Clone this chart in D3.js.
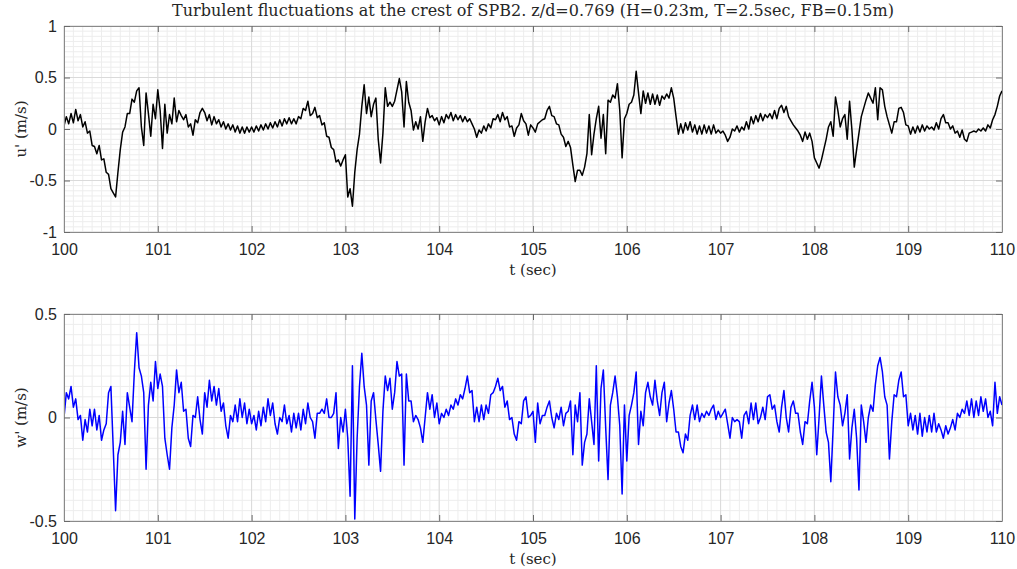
<!DOCTYPE html>
<html>
<head>
<meta charset="utf-8">
<script src="https://cdn.jsdelivr.net/npm/d3@7"></script>
<style>
body { margin: 0; background: #ffffff; }
</style>
</head>
<body>
<div id="DrawZone"></div>
<script>
// time axis of the records: one sample every 0.025 sec from t=100
var tStart = 100;
var tStep = 0.025;

// u' (m/s), 20 samples per row (0.5 sec)
var uValues = [
	0.03, 0.12, 0.05, 0.15, 0.06, 0.19, 0.08, 0.14, 0.02, 0.07, -0.04, -0.02, -0.16, -0.17, -0.24, -0.16, -0.30, -0.29, -0.42, -0.44,
	-0.58, -0.62, -0.66, -0.42, -0.20, -0.03, 0.02, 0.15, 0.15, 0.29, 0.26, 0.37, 0.40, 0.02, -0.16, 0.35, 0.15, -0.07, 0.24, 0.10,
	0.38, 0.18, -0.19, 0.24, -0.04, 0.14, 0.05, 0.30, 0.07, 0.18, 0.13, 0.09, 0.14, 0.02, 0.05, -0.06, 0.09, 0.06, 0.16, 0.20,
	0.16, 0.08, 0.14, 0.04, 0.12, 0.05, 0.09, 0.02, 0.07, 0.00, 0.05, -0.01, 0.04, -0.03, 0.03, -0.04, 0.02, -0.04, 0.02, -0.03,
	0.02, -0.03, 0.03, -0.02, 0.04, -0.01, 0.05, 0.00, 0.06, 0.01, 0.07, 0.02, 0.09, 0.03, 0.10, 0.05, 0.11, 0.05, 0.10, 0.05,
	0.12, 0.10, 0.20, 0.18, 0.27, 0.13, 0.15, 0.21, 0.11, 0.13, 0.04, 0.06, -0.07, -0.08, -0.18, -0.20, -0.32, -0.30, -0.36, -0.30,
	-0.25, -0.66, -0.58, -0.75, -0.42, -0.20, -0.05, 0.22, 0.43, 0.15, 0.31, 0.12, 0.24, 0.30, -0.10, -0.33, -0.04, 0.40, 0.22, 0.26,
	0.22, 0.27, 0.38, 0.49, 0.36, 0.02, 0.46, 0.26, 0.18, -0.01, 0.07, 0.00, 0.12, -0.12, 0.07, 0.20, 0.11, 0.13, 0.08, 0.11,
	0.04, 0.12, 0.06, 0.14, 0.10, 0.16, 0.08, 0.14, 0.09, 0.13, 0.07, 0.12, 0.07, 0.10, 0.05, 0.00, -0.08, -0.01, -0.04, 0.03,
	-0.02, 0.05, 0.01, 0.10, 0.09, 0.14, 0.07, 0.16, 0.09, 0.12, 0.02, 0.03, -0.07, 0.01, 0.04, 0.15, 0.08, 0.05, -0.06, 0.04,
	0.01, -0.03, 0.05, 0.07, 0.09, 0.10, 0.18, 0.22, 0.13, 0.12, 0.05, 0.04, -0.05, -0.08, -0.17, -0.12, -0.18, -0.35, -0.51, -0.40,
	-0.40, -0.45, -0.37, -0.24, 0.14, -0.25, -0.05, 0.10, 0.22, -0.09, 0.14, -0.24, 0.28, 0.26, 0.33, 0.30, 0.44, 0.18, -0.28, 0.10,
	0.15, 0.24, 0.26, 0.33, 0.56, 0.35, 0.15, 0.37, 0.25, 0.35, 0.24, 0.34, 0.24, 0.33, 0.23, 0.32, 0.29, 0.34, 0.30, 0.40,
	0.30, 0.12, -0.05, 0.05, -0.04, 0.06, -0.01, 0.07, -0.03, 0.04, -0.05, 0.03, -0.05, 0.04, -0.04, 0.03, -0.05, 0.04, -0.04, -0.01,
	-0.04, -0.02, -0.06, -0.12, -0.08, 0.00, -0.02, 0.03, -0.03, 0.02, -0.01, 0.07, 0.00, 0.12, 0.05, 0.13, 0.07, 0.15, 0.08, 0.14,
	0.11, 0.15, 0.10, 0.18, 0.10, 0.20, 0.23, 0.16, 0.22, 0.12, 0.08, 0.04, 0.01, -0.02, -0.06, -0.12, -0.03, -0.10, -0.04, -0.12,
	-0.28, -0.33, -0.38, -0.30, -0.20, -0.10, 0.02, 0.07, -0.07, 0.31, 0.18, 0.02, 0.10, 0.14, -0.10, 0.27, -0.01, -0.37, -0.20, -0.04,
	0.12, 0.20, 0.28, 0.35, 0.30, 0.25, 0.40, 0.09, 0.40, 0.38, 0.22, 0.12, 0.04, -0.04, 0.07, 0.07, 0.20, 0.21, 0.16, 0.04,
	0.03, -0.05, 0.02, -0.04, 0.03, -0.03, 0.04, -0.02, 0.03, 0.00, 0.02, -0.01, 0.06, 0.00, 0.10, 0.14, 0.06, 0.06, 0.00, 0.03,
	-0.04, -0.02, -0.08, -0.01, -0.10, -0.12, -0.04, -0.03, -0.02, -0.03, 0.00, -0.02, 0.01, -0.02, 0.04, 0.01, 0.09, 0.14, 0.22, 0.32,
	0.37
];

// w' (m/s), same sampling
var wValues = [
	0.00, 0.12, 0.09, 0.15, 0.05, 0.09, -0.01, 0.01, -0.11, -0.01, -0.07, 0.04, -0.04, 0.04, -0.06, 0.01, -0.11, -0.06, -0.03, 0.12,
	0.15, -0.15, -0.45, -0.18, -0.12, 0.03, -0.13, 0.12, 0.05, -0.02, 0.22, 0.41, 0.24, 0.20, 0.12, -0.25, 0.06, 0.17, 0.08, 0.27,
	0.14, 0.21, 0.15, -0.10, -0.18, -0.25, -0.05, 0.06, 0.23, 0.12, 0.17, 0.03, 0.04, -0.10, -0.14, 0.01, 0.00, 0.10, -0.01, -0.08,
	0.12, 0.05, 0.18, 0.08, 0.15, 0.06, 0.14, 0.03, 0.07, -0.04, -0.10, 0.01, -0.02, 0.06, -0.02, 0.09, 0.00, 0.07, -0.03, 0.04,
	-0.03, 0.01, -0.06, 0.03, -0.04, 0.05, -0.02, 0.09, 0.01, 0.07, -0.03, -0.08, 0.00, -0.02, 0.06, -0.03, 0.01, -0.07, 0.02, -0.05,
	0.02, -0.06, 0.04, -0.03, 0.07, 0.00, -0.02, -0.10, 0.02, 0.02, 0.04, 0.02, 0.09, 0.00, 0.00, 0.02, 0.12, -0.15, 0.00, -0.07,
	0.04, -0.10, -0.38, 0.25, -0.49, -0.10, 0.15, 0.31, 0.15, 0.06, -0.23, 0.08, 0.12, -0.01, -0.13, -0.26, 0.03, 0.20, 0.13, 0.19,
	0.04, 0.12, 0.27, 0.20, 0.21, -0.23, 0.21, 0.08, 0.08, -0.02, 0.01, -0.01, -0.05, -0.12, 0.00, 0.12, 0.04, 0.11, 0.00, 0.07,
	-0.03, 0.02, 0.00, 0.04, 0.01, 0.06, 0.04, 0.09, 0.06, 0.11, 0.09, 0.14, 0.20, 0.12, 0.13, -0.02, 0.05, -0.02, 0.06, -0.01,
	0.06, 0.02, 0.11, 0.12, 0.15, 0.19, 0.13, 0.15, 0.05, 0.08, -0.01, 0.00, -0.08, -0.11, -0.02, -0.03, 0.08, 0.10, 0.00, 0.01,
	0.03, -0.12, 0.07, -0.03, 0.01, 0.01, 0.05, 0.08, 0.00, -0.05, 0.02, -0.01, 0.05, -0.04, 0.02, 0.03, 0.08, -0.18, 0.06, -0.02,
	0.12, -0.23, -0.12, -0.08, 0.09, -0.02, -0.13, 0.25, -0.21, 0.14, 0.23, -0.05, -0.30, 0.06, 0.12, 0.20, 0.10, -0.04, -0.37, 0.06,
	-0.21, 0.01, 0.06, 0.12, 0.22, -0.13, 0.03, -0.04, 0.12, 0.17, 0.10, 0.06, 0.18, 0.08, 0.01, 0.12, 0.17, -0.02, 0.07, 0.13,
	0.04, -0.07, -0.07, -0.14, -0.17, -0.08, -0.11, 0.01, 0.06, -0.01, 0.06, -0.02, 0.02, 0.00, 0.03, 0.01, 0.04, 0.06, -0.01, 0.03,
	0.00, 0.02, 0.04, -0.03, -0.10, 0.00, -0.02, -0.01, -0.02, -0.10, 0.01, 0.03, -0.03, 0.07, -0.01, 0.07, -0.03, 0.00, 0.05, -0.01,
	0.10, 0.11, 0.04, 0.06, -0.02, -0.07, 0.05, 0.13, 0.00, -0.07, 0.05, 0.08, 0.02, 0.02, -0.07, -0.13, -0.02, -0.03, 0.08, 0.17,
	0.05, -0.18, 0.00, 0.20, 0.06, -0.07, -0.12, -0.31, -0.05, 0.22, 0.10, 0.06, -0.04, 0.02, 0.11, -0.20, -0.05, 0.04, -0.10, -0.35,
	0.06, -0.02, -0.12, 0.00, 0.06, 0.03, 0.16, 0.25, 0.29, 0.22, 0.10, 0.06, -0.20, -0.02, 0.11, 0.10, 0.18, 0.22, 0.10, 0.11,
	-0.04, 0.02, -0.06, 0.01, -0.08, 0.02, -0.09, 0.00, -0.07, 0.01, -0.07, 0.02, -0.07, -0.03, -0.06, -0.10, -0.04, -0.08, -0.05, -0.01,
	-0.06, 0.02, 0.00, 0.04, 0.02, 0.08, 0.01, 0.09, 0.00, 0.08, 0.01, 0.10, 0.03, 0.09, 0.00, 0.03, -0.04, 0.17, 0.02, 0.10,
	0.06
];

var xTicks = [100, 101, 102, 103, 104, 105, 106, 107, 108, 109, 110];
var uTicks = [-1, -0.5, 0, 0.5, 1];
var wTicks = [-0.5, 0, 0.5];
var titleText = "Turbulent fluctuations at the crest of SPB2. z/d=0.769 (H=0.23m, T=2.5sec, FB=0.15m)";
var xLabelText = "t (sec)";
var uLabelText = "u' (m/s)";
var wLabelText = "w' (m/s)";

var widthArea = 1017;
var heightArea = 569;
var plotLeft = 64;
var plotRight = 1002;
var tickFont = "'Liberation Sans', Arial, sans-serif";
var labelFont = "'DejaVu Serif', 'Liberation Serif', serif";

var Chart = d3.select("#DrawZone").append("svg").attr("width", widthArea).attr("height", heightArea);

var x = d3.scaleLinear().domain([100, 110]).range([plotLeft, plotRight]);

// matlab writes negative numbers with a plain hyphen
function plainNumber(d) { return String(d); }

//This function draws one panel : grid, box, ticks, the signal and the labels
function DrawPanel(id, topY, bottomY, values, yDomain, yTicks, yMinorStep, colorLine, yLabel) {
	var y = d3.scaleLinear().domain(yDomain).range([bottomY, topY]);
	var g = Chart.append("g").attr("class", id);

	var xMinor = d3.range(100, 110.0001, 0.1);
	var yMinor = d3.range(yDomain[0], yDomain[1] + 0.0001, yMinorStep);

	// minor grid
	g.selectAll(".xminor").data(xMinor).enter().append("line")
		.attr("x1", function(d) { return x(d); }).attr("x2", function(d) { return x(d); })
		.attr("y1", topY).attr("y2", bottomY)
		.style("stroke", "#ededed").style("stroke-width", 1);
	g.selectAll(".yminor").data(yMinor).enter().append("line")
		.attr("x1", plotLeft).attr("x2", plotRight)
		.attr("y1", function(d) { return y(d); }).attr("y2", function(d) { return y(d); })
		.style("stroke", "#ededed").style("stroke-width", 1);

	// major grid
	g.selectAll(".xmajor").data(xTicks).enter().append("line")
		.attr("x1", function(d) { return x(d); }).attr("x2", function(d) { return x(d); })
		.attr("y1", topY).attr("y2", bottomY)
		.style("stroke", "#dadada").style("stroke-width", 1);
	g.selectAll(".ymajor").data(yTicks).enter().append("line")
		.attr("x1", plotLeft).attr("x2", plotRight)
		.attr("y1", function(d) { return y(d); }).attr("y2", function(d) { return y(d); })
		.style("stroke", "#dadada").style("stroke-width", 1);

	// the signal
	var clipId = "clip-" + id;
	g.append("clipPath").attr("id", clipId).append("rect")
		.attr("x", plotLeft).attr("y", topY).attr("width", plotRight - plotLeft).attr("height", bottomY - topY);
	var signal = d3.line()
		.x(function(d, i) { return x(tStart + i * tStep); })
		.y(function(d) { return y(d); });
	g.append("path").datum(values).attr("d", signal).attr("clip-path", "url(#" + clipId + ")")
		.style("fill", "none").style("stroke", colorLine).style("stroke-width", 1.5).style("stroke-linejoin", "round");

	// axes, ticks inside like matlab
	var axB = g.append("g").attr("transform", "translate(0," + bottomY + ")")
		.call(d3.axisBottom(x).tickValues(xTicks).tickSizeInner(-6).tickSizeOuter(0).tickPadding(12).tickFormat(plainNumber));
	var axT = g.append("g").attr("transform", "translate(0," + topY + ")")
		.call(d3.axisTop(x).tickValues(xTicks).tickSizeInner(-6).tickSizeOuter(0).tickFormat(""));
	var axL = g.append("g").attr("transform", "translate(" + plotLeft + ",0)")
		.call(d3.axisLeft(y).tickValues(yTicks).tickSizeInner(-6).tickSizeOuter(0).tickPadding(7).tickFormat(plainNumber));
	var axR = g.append("g").attr("transform", "translate(" + plotRight + ",0)")
		.call(d3.axisRight(y).tickValues(yTicks).tickSizeInner(-6).tickSizeOuter(0).tickFormat(""));

	[axB, axT, axL, axR].forEach(function(a) {
		a.select(".domain").style("stroke", "#8a8a8a").style("stroke-width", 1);
		a.selectAll(".tick line").style("stroke", "#6a6a6a");
		a.selectAll(".tick text").style("font-family", tickFont).style("font-size", "16px").style("fill", "#262626");
	});

	// axis labels
	g.append("text").attr("x", (plotLeft + plotRight) / 2).attr("y", bottomY + 43)
		.attr("text-anchor", "middle").style("font-family", labelFont).style("font-size", "15px").style("fill", "#262626")
		.text(xLabelText);
	g.append("text").attr("transform", "translate(26," + (topY + bottomY) / 2 + ") rotate(-90)")
		.attr("text-anchor", "middle").style("font-family", labelFont).style("font-size", "15px").style("fill", "#262626")
		.text(yLabel);
}

Chart.append("rect").attr("width", widthArea).attr("height", heightArea).style("fill", "#ffffff");

Chart.append("text").attr("x", (plotLeft + plotRight) / 2).attr("y", 15.5)
	.attr("text-anchor", "middle").style("font-family", labelFont).style("font-size", "16px").style("fill", "#262626")
	.text(titleText);

DrawPanel("upper", 26, 232, uValues, [-1, 1], uTicks, 0.05, "#000000", uLabelText);
DrawPanel("lower", 314, 521, wValues, [-0.5, 0.5], wTicks, 0.05, "#0000ff", wLabelText);
</script>
</body>
</html>
